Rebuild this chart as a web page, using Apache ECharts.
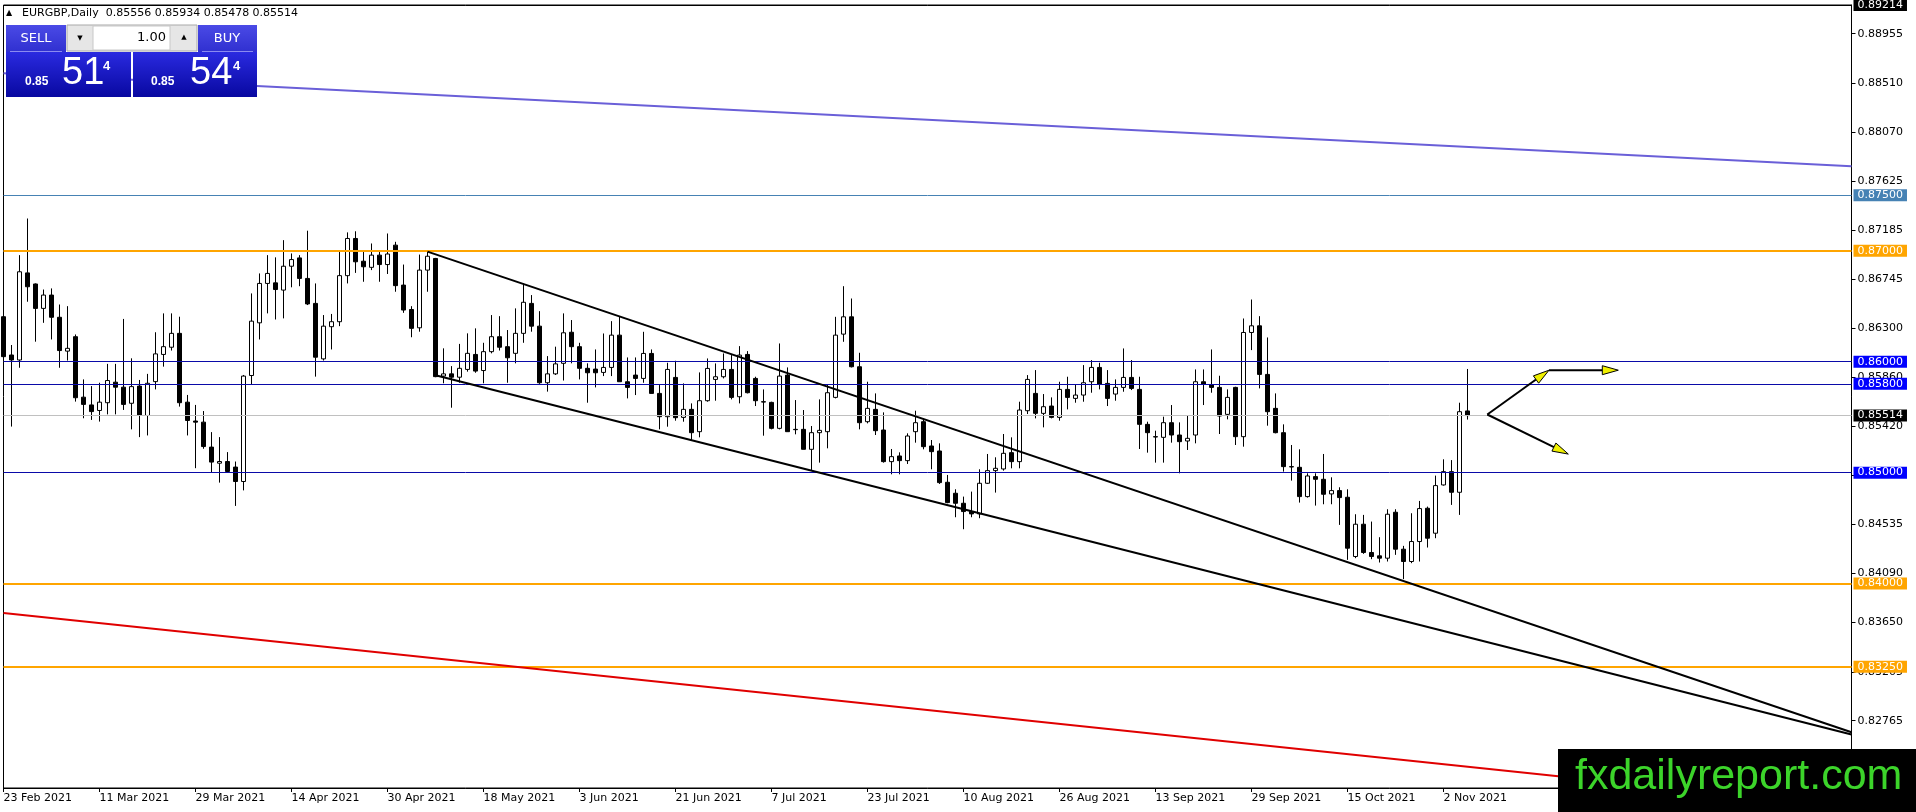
<!DOCTYPE html>
<html><head><meta charset="utf-8">
<script src="https://cdn.jsdelivr.net/npm/echarts@6/dist/echarts.min.js"></script>
<style>html,body{margin:0;padding:0;background:#fff;}#c{width:1916px;height:812px;}</style>
</head><body><div id="c"></div>
<script>
// ---------- data ----------
const symbolName = 'EURGBP,Daily';
const firstDate = '2021-02-23';
const slotCount = 232; // bars + empty right margin (chart shift)

const openP = [
0.86405,0.86060,0.86015,0.86800,0.86700,0.86480,0.86600,0.86400,0.86095,0.86225,
0.85680,0.85610,0.85560,0.85630,0.85815,0.85770,0.85625,0.85780,0.85515,0.85820,
0.86065,0.86130,0.86255,0.85635,0.85465,0.85455,0.85230,0.85085,0.85100,0.85050,
0.84920,0.85875,0.86350,0.86705,0.86710,0.86645,0.86860,0.86935,0.86750,0.86525,
0.86025,0.86315,0.86360,0.86775,0.87110,0.86905,0.86850,0.86960,0.86875,0.87050,
0.86690,0.86470,0.86305,0.86825,0.86930,0.85870,0.85890,0.85860,0.85930,0.86065,
0.85920,0.86090,0.86225,0.86135,0.86075,0.86255,0.86525,0.86320,0.85810,0.85890,
0.85985,0.86265,0.86135,0.85940,0.85933,0.85903,0.85948,0.86239,0.85819,0.85879,
0.85849,0.86074,0.85714,0.85504,0.85858,0.85498,0.85570,0.85369,0.85648,0.85840,
0.85864,0.85930,0.85684,0.86065,0.85849,0.85639,0.85633,0.85399,0.85879,0.85390,
0.85390,0.85210,0.85360,0.85369,0.85678,0.86248,0.86404,0.85954,0.85459,0.85570,
0.85384,0.85099,0.85150,0.85108,0.85369,0.85459,0.85240,0.85195,0.84913,0.84814,
0.84724,0.84649,0.84628,0.84904,0.85018,0.85033,0.85180,0.85099,0.85558,0.85714,
0.85534,0.85600,0.85498,0.85750,0.85669,0.85699,0.85819,0.85948,0.85804,0.85708,
0.85768,0.85858,0.85750,0.85435,0.85324,0.85318,0.85450,0.85339,0.85285,0.85339,
0.85819,0.85789,0.85768,0.85525,0.85768,0.85324,0.86263,0.86323,0.85885,0.85579,
0.85360,0.85054,0.85048,0.84784,0.84964,0.84940,0.84808,0.84838,0.84778,0.84244,
0.84535,0.84280,0.84250,0.84229,0.84643,0.84310,0.84199,0.84379,0.84679,0.84454,
0.84889,0.85009,0.84823,0.85556];
const highP = [
0.86525,0.86150,0.86960,0.87290,0.86705,0.86650,0.86660,0.86515,0.86500,0.86245,
0.85840,0.85780,0.85810,0.85980,0.85980,0.86385,0.86030,0.85835,0.85890,0.86265,
0.86435,0.86435,0.86405,0.85700,0.85610,0.85555,0.85365,0.85320,0.85185,0.85100,
0.85880,0.86615,0.86795,0.86960,0.86940,0.87095,0.86975,0.86960,0.87180,0.86705,
0.86420,0.86430,0.86990,0.87165,0.87175,0.86990,0.87065,0.87005,0.87155,0.87080,
0.86875,0.86500,0.86965,0.86990,0.86935,0.86120,0.85960,0.86160,0.86255,0.86300,
0.86170,0.86420,0.86410,0.86285,0.86480,0.86705,0.86600,0.86455,0.86050,0.86135,
0.86435,0.86375,0.86170,0.85985,0.86110,0.86254,0.86365,0.86404,0.86038,0.86038,
0.86269,0.86110,0.85789,0.85990,0.86008,0.85804,0.85624,0.85903,0.86029,0.85984,
0.86074,0.86059,0.86140,0.86095,0.85864,0.85750,0.85639,0.86164,0.85948,0.85654,
0.85564,0.85420,0.85660,0.85789,0.86404,0.86680,0.86569,0.86080,0.85819,0.85714,
0.85543,0.85213,0.85183,0.85354,0.85558,0.85489,0.85294,0.85264,0.84979,0.84850,
0.84784,0.84829,0.85030,0.85168,0.85138,0.85348,0.85318,0.85639,0.85879,0.85924,
0.85708,0.85678,0.85819,0.85864,0.85798,0.85969,0.86014,0.85990,0.85924,0.85840,
0.86119,0.86014,0.85864,0.85459,0.85378,0.85504,0.85609,0.85453,0.85519,0.85930,
0.85930,0.86110,0.85873,0.85750,0.85774,0.86389,0.86560,0.86410,0.86218,0.85714,
0.85435,0.85249,0.85210,0.84994,0.84994,0.85168,0.84958,0.84868,0.84850,0.84625,
0.84619,0.84559,0.84418,0.84670,0.84670,0.84340,0.84634,0.84745,0.84694,0.84973,
0.85120,0.85113,0.85630,0.85934];
const lowP = [
0.86030,0.85415,0.85945,0.86540,0.86180,0.86350,0.86200,0.85945,0.86010,0.85640,
0.85490,0.85475,0.85460,0.85525,0.85525,0.85565,0.85390,0.85320,0.85335,0.85750,
0.85955,0.86100,0.85595,0.85335,0.85040,0.85215,0.85000,0.84910,0.85000,0.84700,
0.84840,0.85795,0.86200,0.86435,0.86380,0.86390,0.86670,0.86680,0.86510,0.85865,
0.86010,0.86110,0.86320,0.86705,0.86800,0.86720,0.86825,0.86720,0.86790,0.86630,
0.86440,0.86220,0.86270,0.86630,0.85860,0.85805,0.85585,0.85810,0.85910,0.85900,
0.85805,0.86075,0.86100,0.85810,0.85985,0.86170,0.86270,0.85800,0.85730,0.85880,
0.85830,0.85985,0.85840,0.85630,0.85768,0.85870,0.85870,0.85819,0.85669,0.85699,
0.85810,0.85714,0.85390,0.85414,0.85468,0.85459,0.85294,0.85318,0.85639,0.85648,
0.85849,0.85660,0.85624,0.85714,0.85600,0.85333,0.85390,0.85390,0.85369,0.85345,
0.85210,0.85024,0.85090,0.85219,0.85669,0.86179,0.85948,0.85390,0.85444,0.85339,
0.85090,0.84985,0.84985,0.85078,0.85270,0.85210,0.85030,0.84898,0.84724,0.84598,
0.84490,0.84598,0.84589,0.84898,0.84820,0.85018,0.85039,0.85039,0.85528,0.85489,
0.85408,0.85489,0.85468,0.85570,0.85630,0.85639,0.85720,0.85750,0.85600,0.85648,
0.85729,0.85744,0.85213,0.85180,0.85090,0.85090,0.85270,0.84994,0.85204,0.85264,
0.85609,0.85720,0.85348,0.85480,0.85249,0.85234,0.86104,0.85759,0.85423,0.85354,
0.85009,0.84928,0.84730,0.84775,0.84703,0.84715,0.84715,0.84529,0.84214,0.84229,
0.84268,0.84220,0.84190,0.84199,0.84259,0.84040,0.84184,0.84199,0.84325,0.84409,
0.84883,0.84709,0.84619,0.85478];
const closeP = [
0.86045,0.86015,0.86810,0.86675,0.86480,0.86600,0.86400,0.86100,0.86120,0.85675,
0.85615,0.85550,0.85635,0.85830,0.85770,0.85615,0.85775,0.85515,0.85805,0.86070,
0.86135,0.86255,0.85630,0.85470,0.85455,0.85235,0.85095,0.85100,0.85010,0.84920,
0.85870,0.86365,0.86705,0.86795,0.86650,0.86860,0.86920,0.86750,0.86520,0.86040,
0.86320,0.86360,0.86775,0.87110,0.86900,0.86855,0.86960,0.86875,0.86970,0.86685,
0.86465,0.86300,0.86825,0.86950,0.85865,0.85890,0.85860,0.85940,0.86075,0.85915,
0.86090,0.86225,0.86130,0.86035,0.86255,0.86535,0.86320,0.85810,0.85890,0.85980,
0.86260,0.86135,0.85940,0.85900,0.85900,0.85948,0.86239,0.85819,0.85768,0.85849,
0.86074,0.85714,0.85504,0.85930,0.85495,0.85570,0.85360,0.85648,0.85939,0.85864,
0.85930,0.85678,0.86059,0.85720,0.85648,0.85636,0.85399,0.85870,0.85369,0.85387,
0.85210,0.85360,0.85381,0.85720,0.86239,0.86404,0.85954,0.85450,0.85579,0.85378,
0.85099,0.85144,0.85108,0.85330,0.85450,0.85234,0.85189,0.84910,0.84730,0.84724,
0.84649,0.84628,0.84904,0.85018,0.85039,0.85174,0.85099,0.85564,0.85840,0.85534,
0.85594,0.85498,0.85750,0.85678,0.85699,0.85810,0.85948,0.85798,0.85669,0.85768,
0.85858,0.85759,0.85435,0.85360,0.85321,0.85450,0.85339,0.85279,0.85309,0.85819,
0.85798,0.85768,0.85510,0.85678,0.85324,0.86263,0.86323,0.85885,0.85549,0.85360,
0.85054,0.85051,0.84784,0.84970,0.84940,0.84805,0.84838,0.84775,0.84319,0.84535,
0.84280,0.84244,0.84229,0.84625,0.84310,0.84199,0.84379,0.84676,0.84409,0.84883,
0.85009,0.84823,0.85549,0.85514];

const priceTicks = [0.88955,0.88510,0.88070,0.87625,0.87185,0.86745,0.86300,0.85860,0.85420,0.84980,0.84535,0.84090,0.83650,0.83205,0.82765];
const priceMin = 0.82158, priceMax = 0.89214;
const levelPrices = [0.89214, 0.87500, 0.87000, 0.86000, 0.85800, 0.85514, 0.85000, 0.84000, 0.83250];
// trend lines: [startIndex, startPrice, endIndex, endPrice]
const trendLines = [
  [0, 0.88598, 231, 0.87761],
  [0, 0.83734, 200, 0.82221],
  [53, 0.86992, 231, 0.82660],
  [54, 0.85878, 231, 0.82640]
];
// arrows: [fromIndex, fromPrice, toIndex, toPrice]
const arrowSegments = [
  [185.475, 0.85524, 193.19, 0.85923],
  [193.19, 0.85923, 201.85, 0.85923],
  [185.475, 0.85524, 195.6, 0.85167]
];
const headerPrices = ['0.85556','0.85934','0.85478','0.85514'];
const sellQuote = {big:'0.85', pips:'51', frac:'4'};
const buyQuote = {big:'0.85', pips:'54', frac:'4'};
const lotSize = '1.00';
const watermarkText = 'fxdailyreport.com';

// ---------- styles ----------
const levelStyles = [
  {line:'#000000', box:'#000000', width:1},
  {line:'#4682b4', box:'#4682b4', width:1},
  {line:'#ffa500', box:'#ffa500', width:2},
  {line:'#0a0aa8', box:'#0000ff', width:1},
  {line:'#0a0aa8', box:'#0000ff', width:1},
  {line:'#c0c0c0', box:'#000000', width:1},
  {line:'#0a0aa8', box:'#0000ff', width:1},
  {line:'#ffa500', box:'#ffa500', width:2},
  {line:'#ffa500', box:'#ffa500', width:2}
];
const trendStyles = [
  {color:'#6a5fd8', width:2},
  {color:'#e00000', width:2},
  {color:'#000000', width:2},
  {color:'#000000', width:2}
];

// ---------- categories (trading days) ----------
const MONTHS = ['Jan','Feb','Mar','Apr','May','Jun','Jul','Aug','Sep','Oct','Nov','Dec'];
const categories = [];
{
  const d = new Date(firstDate + 'T00:00:00Z');
  while (categories.length < slotCount) {
    const wd = d.getUTCDay();
    if (wd !== 0 && wd !== 6) categories.push(d.getUTCDate() + ' ' + MONTHS[d.getUTCMonth()] + ' ' + d.getUTCFullYear());
    d.setUTCDate(d.getUTCDate() + 1);
  }
}
const barCount = openP.length;
const showDateTick = (i) => i % 12 === 0 && i < barCount;

const candleData = openP.map((o, i) => [o, closeP[i], lowP[i], highP[i]]);

const FONT = '"DejaVu Sans", Tahoma, sans-serif';

const markData = [];
levelPrices.forEach((v, k) => {
  const s = levelStyles[k];
  markData.push({
    yAxis: v,
    lineStyle: {color: s.line, width: s.width, type: 'solid'},
    label: {show: true, position: 'end', distance: 2, formatter: () => v.toFixed(5),
      color: '#fff', backgroundColor: s.box, padding: [1, 4, 0, 4], fontSize: 11, fontFamily: FONT}
  });
});
trendLines.forEach((t, k) => {
  markData.push([
    {coord: [t[0], t[1]], lineStyle: {color: trendStyles[k].color, width: trendStyles[k].width, type: 'solid'}, label: {show: false}},
    {coord: [t[2], t[3]]}
  ]);
});

const chart = echarts.init(document.getElementById('c'), null, {renderer: 'canvas'});

const grad = (a, b) => new echarts.graphic.LinearGradient(0, 0, 0, 1, [{offset: 0, color: a}, {offset: 1, color: b}]);

const graphic = [
  // header
  {type:'text', x:6, y:13, z:100, style:{text:'\u25B2', fill:'#000', font:'8px "DejaVu Sans"', verticalAlign:'middle'}},
  {type:'text', x:22, y:13, z:100, style:{text: symbolName + '  ' + headerPrices.join(' '), fill:'#000', font:'11px ' + FONT, verticalAlign:'middle'}},
  // SELL button
  {type:'rect', z:100, shape:{x:6, y:25, width:60, height:27}, style:{fill: grad('#4a4ae6', '#3030d0')}},
  {type:'line', z:101, shape:{x1:10, y1:51.5, x2:62, y2:51.5}, style:{stroke:'#8a8af0', lineWidth:1}},
  {type:'text', z:101, x:36, y:39, style:{text:'SELL', fill:'#fff', font:'13px ' + FONT, align:'center', verticalAlign:'middle'}},
  // spinner
  {type:'rect', z:100, shape:{x:67, y:25, width:130, height:26}, style:{fill:'#e6e6e6', stroke:'#a8a8a8', lineWidth:1}},
  {type:'rect', z:101, shape:{x:93, y:26, width:77, height:24}, style:{fill:'#ffffff', stroke:'#c8c8c8', lineWidth:1}},
  {type:'text', z:102, x:80, y:38, style:{text:'\u25BC', fill:'#000', font:'7px "DejaVu Sans"', align:'center', verticalAlign:'middle'}},
  {type:'text', z:102, x:184, y:37, style:{text:'\u25B2', fill:'#000', font:'7px "DejaVu Sans"', align:'center', verticalAlign:'middle'}},
  {type:'text', z:102, x:166, y:38, style:{text: lotSize, fill:'#000', font:'13px ' + FONT, align:'right', verticalAlign:'middle'}},
  // BUY button
  {type:'rect', z:100, shape:{x:198, y:25, width:59, height:27}, style:{fill: grad('#4a4ae6', '#3030d0')}},
  {type:'line', z:101, shape:{x1:202, y1:51.5, x2:253, y2:51.5}, style:{stroke:'#8a8af0', lineWidth:1}},
  {type:'text', z:101, x:227, y:39, style:{text:'BUY', fill:'#fff', font:'13px ' + FONT, align:'center', verticalAlign:'middle'}},
  // SELL quote
  {type:'rect', z:100, shape:{x:6, y:52, width:125, height:45}, style:{fill: grad('#2a2ae0', '#0808a0')}},
  {type:'text', z:101, x:25, y:82, style:{text: sellQuote.big, fill:'#fff', font:'bold 12px "Liberation Sans", Arial', verticalAlign:'middle'}},
  {type:'text', z:101, x:62, y:74, style:{text: sellQuote.pips, fill:'#fff', font:'38px "Liberation Sans Narrow", "Liberation Sans", Arial', verticalAlign:'middle'}},
  {type:'text', z:101, x:103, y:66, style:{text: sellQuote.frac, fill:'#fff', font:'bold 13px "Liberation Sans", Arial', verticalAlign:'middle'}},
  // BUY quote
  {type:'rect', z:100, shape:{x:133, y:52, width:124, height:45}, style:{fill: grad('#2a2ae0', '#0808a0')}},
  {type:'text', z:101, x:151, y:82, style:{text: buyQuote.big, fill:'#fff', font:'bold 12px "Liberation Sans", Arial', verticalAlign:'middle'}},
  {type:'text', z:101, x:190, y:74, style:{text: buyQuote.pips, fill:'#fff', font:'38px "Liberation Sans Narrow", "Liberation Sans", Arial', verticalAlign:'middle'}},
  {type:'text', z:101, x:233, y:66, style:{text: buyQuote.frac, fill:'#fff', font:'bold 13px "Liberation Sans", Arial', verticalAlign:'middle'}},
  // watermark
  {type:'rect', z:100, shape:{x:1558, y:749, width:358, height:63}, style:{fill:'#000'}},
  {type:'text', z:101, x:1575, y:777, style:{text: watermarkText, fill:'#3cd42a', font:'43px "Liberation Sans", Arial', verticalAlign:'middle'}}
];

const option = {
  animation: false,
  backgroundColor: '#ffffff',
  grid: {left: 3.5, right: 64.5, top: 5, bottom: 24, show: true, borderColor: '#000', borderWidth: 1, backgroundColor: 'transparent'},
  xAxis: {
    type: 'category', data: categories, boundaryGap: false,
    axisLine: {show: true, lineStyle: {color: '#000', width: 1}},
    axisTick: {show: true, interval: (i) => showDateTick(i), length: 4, lineStyle: {color: '#000'}},
    axisLabel: {interval: (i) => showDateTick(i), align: 'left', margin: 5, color: '#000', fontSize: 11, fontFamily: FONT, hideOverlap: false},
    splitLine: {show: false}
  },
  yAxis: {
    type: 'value', position: 'right', min: priceMin, max: priceMax, scale: true,
    splitLine: {show: false},
    axisLine: {show: true, lineStyle: {color: '#000', width: 1}},
    axisTick: {show: true, customValues: priceTicks, length: 4, lineStyle: {color: '#000'}},
    axisLabel: {customValues: priceTicks, formatter: (v) => Number(v).toFixed(5), color: '#000', fontSize: 11, fontFamily: FONT, margin: 6}
  },
  series: [
    {
      type: 'candlestick', data: candleData, barWidth: 4, clip: true,
      itemStyle: {color: '#ffffff', color0: '#000000', borderColor: '#000000', borderColor0: '#000000', borderWidth: 1},
      emphasis: {disabled: true},
      markLine: {silent: true, symbol: ['none', 'none'], precision: 5, animation: false, z: 5, label: {show: false}, data: markData}
    },
    {
      type: 'custom', silent: true, z: 8, clip: false,
      data: arrowSegments.map((s, k) => [k]),
      renderItem: function (params, api) {
        const s = arrowSegments[params.dataIndex];
        const pt = (v, p) => {
          const i = Math.floor(v);
          const a = api.coord([i, p]);
          const b = api.coord([i + 1, p]);
          return [a[0] + (v - i) * (b[0] - a[0]), a[1]];
        };
        const p0 = pt(s[0], s[1]);
        const p1 = pt(s[2], s[3]);
        const dx = p1[0] - p0[0], dy = p1[1] - p0[1];
        const L = Math.sqrt(dx * dx + dy * dy) || 1;
        const ux = dx / L, uy = dy / L;
        const nx = -uy, ny = ux;
        const hl = 16, hw = 4.5;
        const bx = p1[0] - ux * hl, by = p1[1] - uy * hl;
        return {
          type: 'group',
          children: [
            {type: 'line', shape: {x1: p0[0], y1: p0[1], x2: bx, y2: by}, style: {stroke: '#000', lineWidth: 2}},
            {type: 'polygon', shape: {points: [[p1[0], p1[1]], [bx + nx * hw, by + ny * hw], [bx - nx * hw, by - ny * hw]]},
             style: {fill: '#f0f000', stroke: '#000', lineWidth: 1}}
          ]
        };
      }
    }
  ],
  graphic: graphic
};
chart.setOption(option);
</script>
</body></html>
